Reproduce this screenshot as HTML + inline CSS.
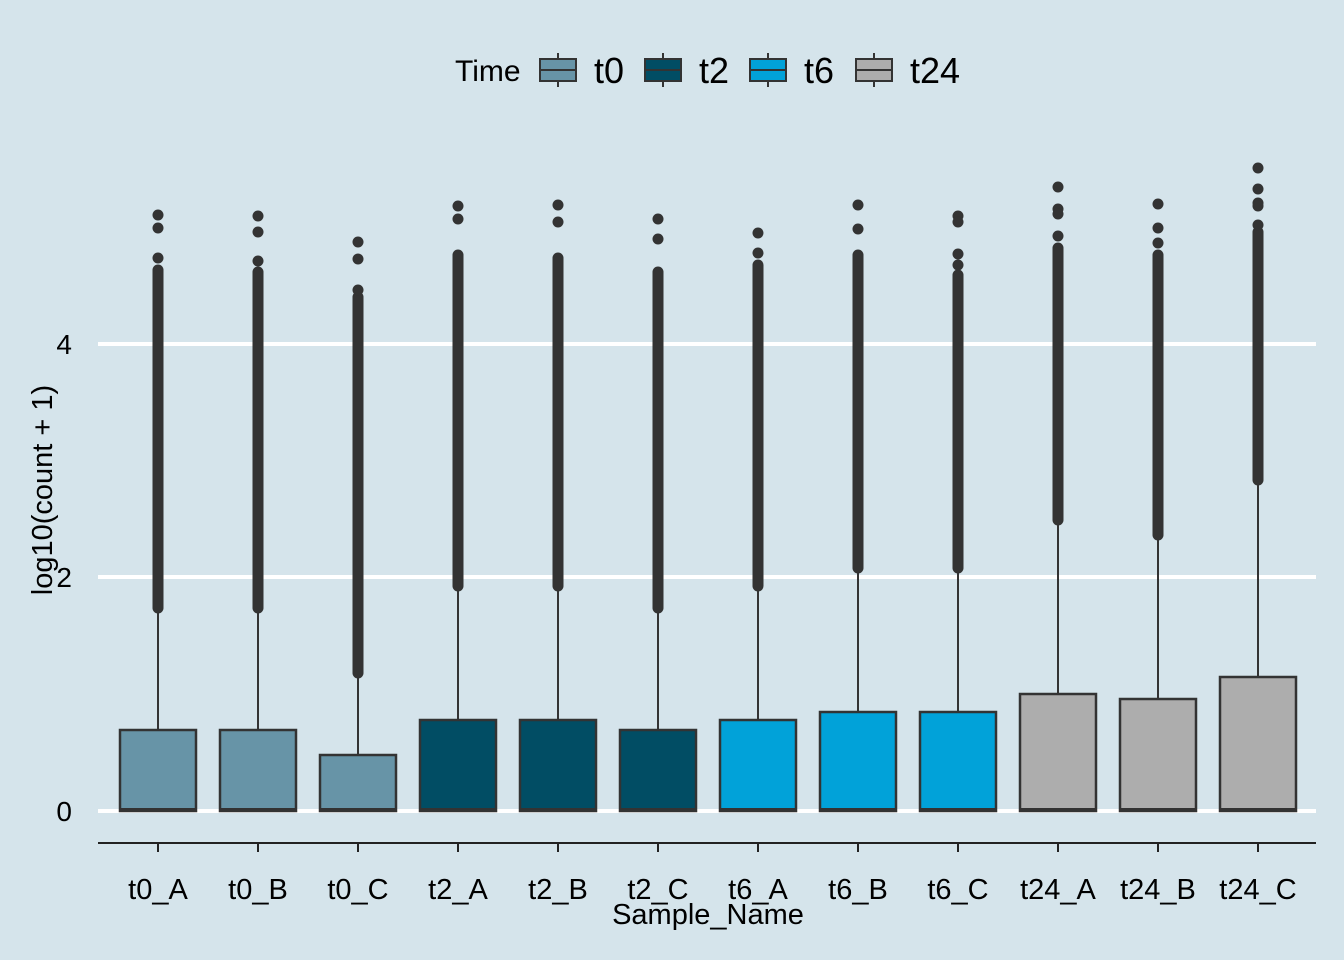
<!DOCTYPE html>
<html><head><style>body{margin:0;background:#d5e4eb}svg{display:block}text{font-family:"Liberation Sans",sans-serif;fill:#000}</style></head>
<body>
<svg width="1344" height="960" viewBox="0 0 1344 960">
<rect width="1344" height="960" fill="#d5e4eb"/>
<g stroke="#fff" stroke-width="4">
<line x1="98" y1="344" x2="1316" y2="344"/><line x1="98" y1="577" x2="1316" y2="577"/><line x1="98" y1="811" x2="1316" y2="811"/>
</g>
<line x1="98" y1="843" x2="1316" y2="843" stroke="#222" stroke-width="2"/>
<g font-size="28" text-anchor="end"><text x="72" y="354">4</text><text x="72" y="587">2</text><text x="72" y="821">0</text></g>
<text transform="translate(52,490) rotate(-90)" font-size="29" text-anchor="middle">log10(count + 1)</text>
<text x="708" y="924" font-size="29" text-anchor="middle">Sample_Name</text>

<g stroke="#333">
<g stroke-width="2">
<line x1="158" y1="610" x2="158" y2="730"/><line x1="258" y1="610" x2="258" y2="730"/><line x1="358" y1="675" x2="358" y2="755"/>
<line x1="458" y1="588" x2="458" y2="720"/><line x1="558" y1="588" x2="558" y2="720"/><line x1="658" y1="610" x2="658" y2="730"/>
<line x1="758" y1="588" x2="758" y2="720"/><line x1="858" y1="570" x2="858" y2="712"/><line x1="958" y1="570" x2="958" y2="712"/>
<line x1="1058" y1="522" x2="1058" y2="694"/><line x1="1158" y1="537" x2="1158" y2="699"/><line x1="1258" y1="482" x2="1258" y2="677"/>
</g>
<g stroke-width="11" stroke-linecap="round">
<line x1="158" y1="608" x2="158" y2="270"/><line x1="258" y1="608" x2="258" y2="272"/><line x1="358" y1="673" x2="358" y2="297"/>
<line x1="458" y1="586" x2="458" y2="255"/><line x1="558" y1="586" x2="558" y2="258"/><line x1="658" y1="608" x2="658" y2="272"/>
<line x1="758" y1="586" x2="758" y2="265"/><line x1="858" y1="568" x2="858" y2="255"/><line x1="958" y1="568" x2="958" y2="275"/>
<line x1="1058" y1="520" x2="1058" y2="248"/><line x1="1158" y1="535" x2="1158" y2="255"/><line x1="1258" y1="480" x2="1258" y2="232"/>
</g>
</g>
<g fill="#333">
<circle cx="158" cy="215" r="5.5"/><circle cx="158" cy="228" r="5.5"/><circle cx="158" cy="258" r="5.5"/>
<circle cx="258" cy="216" r="5.5"/><circle cx="258" cy="232" r="5.5"/><circle cx="258" cy="261" r="5.5"/>
<circle cx="358" cy="242" r="5.5"/><circle cx="358" cy="259" r="5.5"/><circle cx="358" cy="290" r="5.5"/>
<circle cx="458" cy="206" r="5.5"/><circle cx="458" cy="219" r="5.5"/>
<circle cx="558" cy="205" r="5.5"/><circle cx="558" cy="222" r="5.5"/>
<circle cx="658" cy="219" r="5.5"/><circle cx="658" cy="239" r="5.5"/>
<circle cx="758" cy="233" r="5.5"/><circle cx="758" cy="253" r="5.5"/>
<circle cx="858" cy="205" r="5.5"/><circle cx="858" cy="229" r="5.5"/>
<circle cx="958" cy="216" r="5.5"/><circle cx="958" cy="222" r="5.5"/><circle cx="958" cy="254" r="5.5"/><circle cx="958" cy="265" r="5.5"/>
<circle cx="1058" cy="187" r="5.5"/><circle cx="1058" cy="209" r="5.5"/><circle cx="1058" cy="214" r="5.5"/><circle cx="1058" cy="236" r="5.5"/>
<circle cx="1158" cy="204" r="5.5"/><circle cx="1158" cy="228" r="5.5"/><circle cx="1158" cy="243" r="5.5"/>
<circle cx="1258" cy="168" r="5.5"/><circle cx="1258" cy="189" r="5.5"/><circle cx="1258" cy="203" r="5.5"/><circle cx="1258" cy="206" r="5.5"/><circle cx="1258" cy="225" r="5.5"/>
</g>

<g stroke="#333" stroke-width="2.5">
<rect x="120" y="730" width="76" height="81" fill="#6794a7"/>
<rect x="220" y="730" width="76" height="81" fill="#6794a7"/>
<rect x="320" y="755" width="76" height="56" fill="#6794a7"/>
<rect x="420" y="720" width="76" height="91" fill="#014d64"/>
<rect x="520" y="720" width="76" height="91" fill="#014d64"/>
<rect x="620" y="730" width="76" height="81" fill="#014d64"/>
<rect x="720" y="720" width="76" height="91" fill="#01a2d9"/>
<rect x="820" y="712" width="76" height="99" fill="#01a2d9"/>
<rect x="920" y="712" width="76" height="99" fill="#01a2d9"/>
<rect x="1020" y="694" width="76" height="117" fill="#adadad"/>
<rect x="1120" y="699" width="76" height="112" fill="#adadad"/>
<rect x="1220" y="677" width="76" height="134" fill="#adadad"/>
</g>
<g stroke="#333" stroke-width="4">
<line x1="120" y1="810" x2="196" y2="810"/><line x1="220" y1="810" x2="296" y2="810"/><line x1="320" y1="810" x2="396" y2="810"/>
<line x1="420" y1="810" x2="496" y2="810"/><line x1="520" y1="810" x2="596" y2="810"/><line x1="620" y1="810" x2="696" y2="810"/>
<line x1="720" y1="810" x2="796" y2="810"/><line x1="820" y1="810" x2="896" y2="810"/><line x1="920" y1="810" x2="996" y2="810"/>
<line x1="1020" y1="810" x2="1096" y2="810"/><line x1="1120" y1="810" x2="1196" y2="810"/><line x1="1220" y1="810" x2="1296" y2="810"/>
</g>
<g stroke="#222" stroke-width="2">
<line x1="158" y1="843" x2="158" y2="852"/><line x1="258" y1="843" x2="258" y2="852"/><line x1="358" y1="843" x2="358" y2="852"/>
<line x1="458" y1="843" x2="458" y2="852"/><line x1="558" y1="843" x2="558" y2="852"/><line x1="658" y1="843" x2="658" y2="852"/>
<line x1="758" y1="843" x2="758" y2="852"/><line x1="858" y1="843" x2="858" y2="852"/><line x1="958" y1="843" x2="958" y2="852"/>
<line x1="1058" y1="843" x2="1058" y2="852"/><line x1="1158" y1="843" x2="1158" y2="852"/><line x1="1258" y1="843" x2="1258" y2="852"/>
</g>
<g font-size="29" text-anchor="middle">
<text x="158" y="899">t0_A</text><text x="258" y="899">t0_B</text><text x="358" y="899">t0_C</text>
<text x="458" y="899">t2_A</text><text x="558" y="899">t2_B</text><text x="658" y="899">t2_C</text>
<text x="758" y="899">t6_A</text><text x="858" y="899">t6_B</text><text x="958" y="899">t6_C</text>
<text x="1058" y="899">t24_A</text><text x="1158" y="899">t24_B</text><text x="1258" y="899">t24_C</text>
</g>

<text x="455" y="81" font-size="30">Time</text>
<g stroke="#333" stroke-width="2">
<rect x="540" y="59" width="36" height="22" fill="#6794a7"/><line x1="540" y1="70" x2="576" y2="70"/><line x1="558" y1="53" x2="558" y2="59"/><line x1="558" y1="81" x2="558" y2="87"/>
<rect x="645" y="59" width="36" height="22" fill="#014d64"/><line x1="645" y1="70" x2="681" y2="70"/><line x1="663" y1="53" x2="663" y2="59"/><line x1="663" y1="81" x2="663" y2="87"/>
<rect x="750" y="59" width="36" height="22" fill="#01a2d9"/><line x1="750" y1="70" x2="786" y2="70"/><line x1="768" y1="53" x2="768" y2="59"/><line x1="768" y1="81" x2="768" y2="87"/>
<rect x="856" y="59" width="36" height="22" fill="#adadad"/><line x1="856" y1="70" x2="892" y2="70"/><line x1="874" y1="53" x2="874" y2="59"/><line x1="874" y1="81" x2="874" y2="87"/>
</g>
<g font-size="36"><text x="594" y="83">t0</text><text x="699" y="83">t2</text><text x="804" y="83">t6</text><text x="910" y="83">t24</text></g>
</svg>
</body></html>
